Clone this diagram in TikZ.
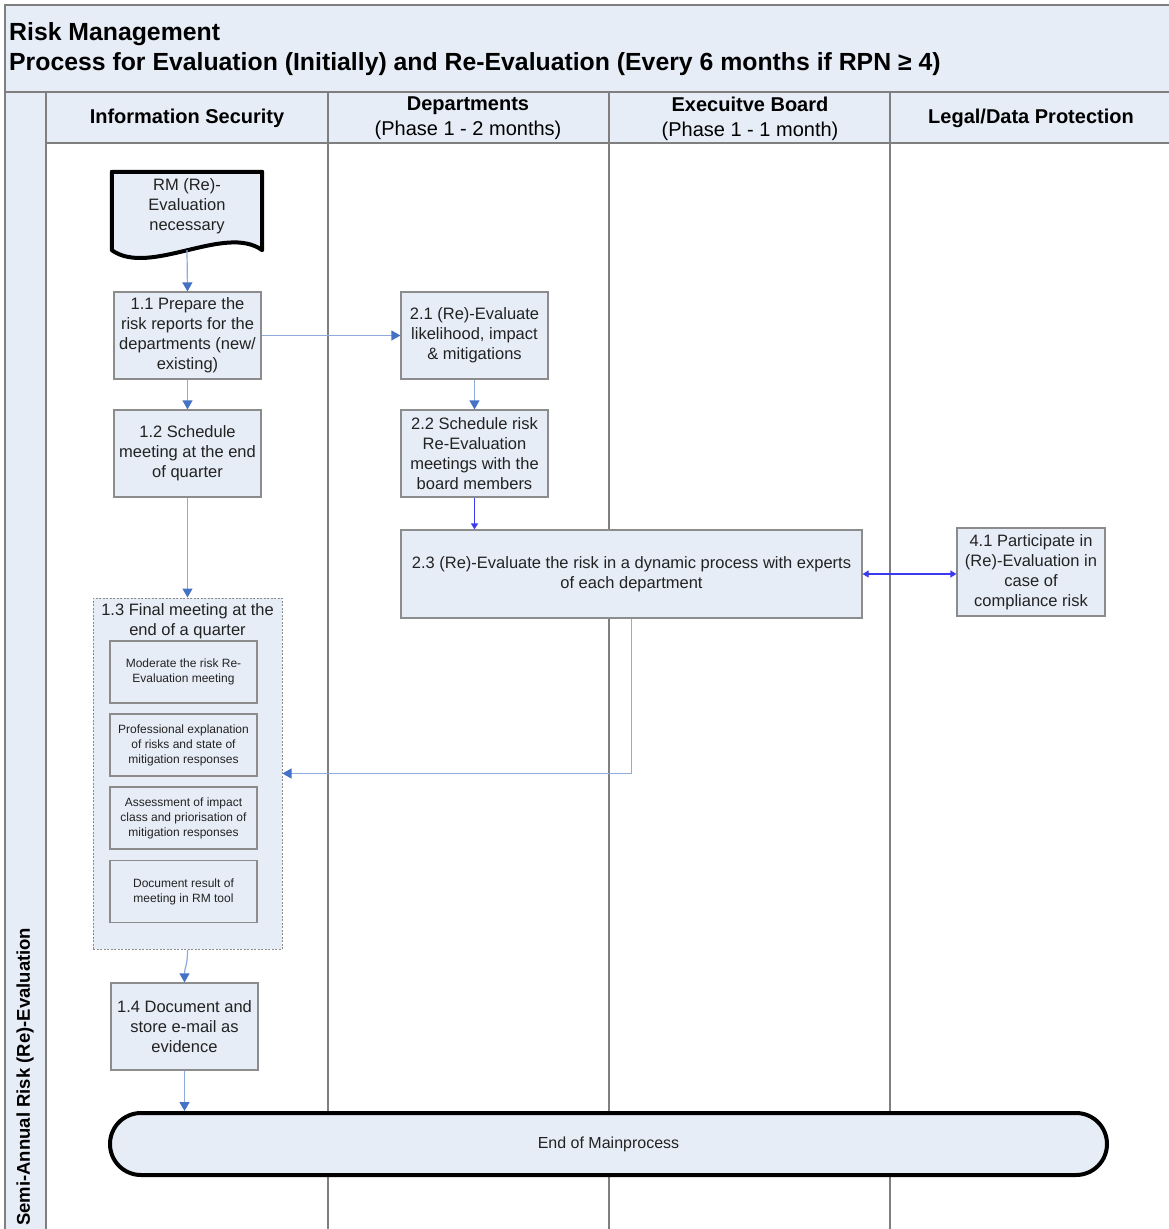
\documentclass[tikz,border=0pt]{standalone}
\usepackage{fontspec}
\setmainfont{Liberation Sans}
\usetikzlibrary{arrows.meta,calc}

\definecolor{paneblue}{HTML}{E7EDF7}
\definecolor{gridgrey}{HTML}{7F7F7F}
\definecolor{boxgrey}{HTML}{8C8C8C}
\definecolor{inkgrey}{HTML}{222222}
\definecolor{flowline}{HTML}{8FAADC}
\definecolor{flowtip}{HTML}{4472C4}
\definecolor{linkblue}{HTML}{3A3AF0}

\tikzset{
  grid/.style={draw=gridgrey, line width=1.3pt},
  proc/.style={draw=boxgrey, fill=paneblue, line width=1.2pt,
    minimum width=147pt, minimum height=87pt, inner sep=2pt,
    align=center, text=inkgrey, font=\fontsize{16.5}{20}\selectfont},
  subtask/.style={draw=boxgrey, fill=paneblue, line width=1.2pt,
    minimum width=147pt, minimum height=62pt, inner sep=2pt,
    align=center, text=inkgrey, font=\fontsize{12}{15}\selectfont},
  group/.style={draw=boxgrey, fill=paneblue, line width=1pt,
    dash pattern=on 2pt off 1.5pt, minimum width=189pt, minimum height=351pt},
  terminal/.style={draw=black, fill=paneblue, line width=4pt,
    rounded corners=31pt, minimum width=997pt, minimum height=62pt,
    text=inkgrey, font=\fontsize{16}{20}\selectfont},
  heading/.style={align=center, text=black, font=\fontsize{20}{25}\selectfont},
  titletext/.style={anchor=west, inner sep=0pt, font=\fontsize{24.8}{30}\selectfont\bfseries},
  flow/.style={draw=flowline, line width=1.2pt,
    -{Triangle[width=10pt,length=9pt,color=flowtip]}},
  link/.style={draw=linkblue, line width=1.2pt,
    -{Triangle[width=7pt,length=6pt]}},
  biglink/.style={draw=linkblue, line width=1.2pt,
    {Triangle[width=7pt,length=6pt]}-{Triangle[width=7pt,length=6pt]}},
}

\begin{document}
\begin{tikzpicture}[x=1pt,y=-1pt]
\useasboundingbox (0,0) rectangle (1169,1229);

% title band, lane header row and the vertical pool strip
\fill[paneblue] (5,5) rectangle (1169,92);
\fill[paneblue] (46,92) rectangle (1169,143);
\fill[paneblue] (5,92) rectangle (46,1229);

\draw[grid] (1169,5) -- (5,5) -- (5,1229);
\draw[grid] (5,92) -- (1169,92);
\draw[grid] (46,92) -- (46,1229);
\draw[grid] (46,143) -- (1169,143);
\draw[grid] (328,92) -- (328,1229);
\draw[grid] (609,92) -- (609,1229);
\draw[grid] (890,92) -- (890,1229);

% title
\node[titletext] (title1) at (9,34) {Risk Management};
\node[titletext] (title2) at (9,64)
  {Process for Evaluation (Initially) and Re-Evaluation (Every 6 months if RPN ≥ 4)};

% lane headers
\node[heading] (laneis) at (187,118) {\bfseries Information Security};
\node[heading] (lanedep) at (468,118.5) {{\bfseries Departments}\\(Phase 1 - 2 months)};
\node[heading] (laneeb) at (750,118.5) {{\bfseries Execuitve Board}\\(Phase 1 - 1 month)};
\node[heading] (lanelegal) at (1031,118) {\bfseries Legal/Data Protection};

\node[rotate=90, anchor=west, inner sep=0pt, font=\fontsize{18.5}{22}\selectfont\bfseries] (poollabel)
  at (25,1226) {Semi-Annual Risk (Re)-Evaluation};

% start document shape: frame node, wavy outline, then its text
\node[minimum width=150pt, minimum height=68pt, inner sep=0pt] (doc) at (187,206) {};
\coordinate (docb) at ([yshift=-10pt]doc.south);
\draw[line width=4pt, line join=round, fill=paneblue]
  (doc.north west) -- (doc.north east) -- ([yshift=-10pt]doc.south east)
  .. controls +(-37,-27) and +(38,27) .. ([yshift=-10pt]doc.south west) -- cycle;
\node[inner sep=0pt, align=center, text=inkgrey,
      font=\fontsize{16.5}{20}\selectfont] (doctext) at (187,206) {RM (Re)-\\Evaluation\\necessary};

% Information Security lane
\node[proc] (p11) at (187.5,335.5) {1.1 Prepare the\\risk reports for the\\departments (new/\\existing)};
\node[proc] (p12) at (187.5,453.5) {1.2 Schedule\\meeting at the end\\of quarter};
\node[group] (p13) at (187.5,773.5) {};
\node[align=center, text=inkgrey, font=\fontsize{16.5}{20}\selectfont] (p13t) at (187.5,621)
  {1.3 Final meeting at the\\end of a quarter};
\node[subtask] (s1) at (183.5,672) {Moderate the risk Re-\\Evaluation meeting};
\node[subtask] (s2) at (183.5,745) {Professional explanation\\of risks and state of\\mitigation responses};
\node[subtask] (s3) at (183.5,818) {Assessment of impact\\class and priorisation of\\mitigation responses};
\node[subtask] (s4) at (183.5,891.5) {Document result of\\meeting in RM tool};
\node[proc] (p14) at (184.5,1026.5) {1.4 Document and\\store e-mail as\\evidence};

% Departments lane
\node[proc] (p21) at (474.5,335.5) {2.1 (Re)-Evaluate\\likelihood, impact\\\& mitigations};
\node[proc] (p22) at (474.5,453.5) {2.2 Schedule risk\\Re-Evaluation\\meetings with the\\board members};
\node[proc, minimum width=461pt, minimum height=88pt] (p23) at (631.5,574)
  {2.3 (Re)-Evaluate the risk in a dynamic process with experts\\of each department};

% Legal lane
\node[proc, minimum width=148pt, minimum height=88pt] (p41) at (1031,572)
  {4.1 Participate in\\(Re)-Evaluation in\\case of\\compliance risk};

% end of process
\node[terminal] (endp) at (608.5,1144) {End of Mainprocess};

% connectors
\draw[flow] (docb) -- (p11.north);
\draw[flow] (p11.east) -- (p21.west);
\draw[flow] (p11.south) -- (p12.north);
\draw[flow] (p12.south) -- (p13.north);
\draw[flow] (p21.south) -- (p22.north);
\draw[link] (p22.south) -- (p22.south |- p23.north);
\draw[biglink] (p23.east) -- (p23.east -| p41.west);
\draw[flow] (p23.south) |- (p13.east);
\draw[flow] (p13.south) .. controls +(0,18) and +(0,-16) .. (p14.north);
\draw[flow] (p14.south) -- (p14.south |- endp.north);
\end{tikzpicture}
\end{document}
